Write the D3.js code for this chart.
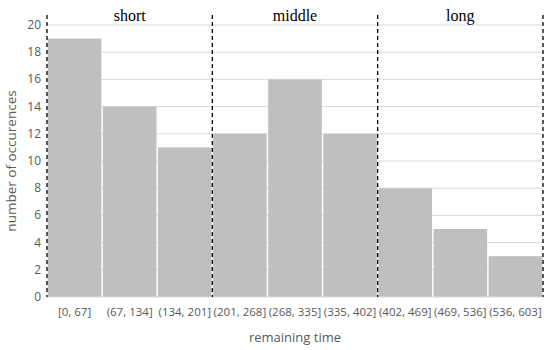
<!DOCTYPE html>
<html><head><meta charset="utf-8">
<script src="https://cdn.jsdelivr.net/npm/d3@7"></script>
<style>body{margin:0;background:#fff}svg{display:block}</style>
</head><body>
<svg id="c" width="550" height="350"></svg>
<script>
const categories = ["[0, 67]","(67, 134]","(134, 201]","(201, 268]","(268, 335]","(335, 402]","(402, 469]","(469, 536]","(536, 603]"];
const values = [19,14,11,12,16,12,8,5,3];
const yTicks = [0,2,4,6,8,10,12,14,16,18,20];
const groups = ["short","middle","long"];
const groupBounds = [0,3,6,9];

const svg = d3.select("#c");
const L=47, R=543, T=25, B=297;
const x = d3.scaleBand().domain(categories).range([L,R]).padding(0);
const y = d3.scaleLinear().domain([0,20]).range([B,T]);

svg.append("g").selectAll("line").data(yTicks.filter(d=>d>0)).join("line")
  .attr("x1",L).attr("x2",R).attr("y1",d=>y(d)).attr("y2",d=>y(d))
  .attr("stroke","#d9d9d9").attr("stroke-width",1);

svg.append("g").selectAll("rect").data(values).join("rect")
  .attr("x",(d,i)=>x(categories[i])+0.75).attr("width",x.bandwidth()-1.5)
  .attr("y",d=>y(d)).attr("height",d=>B-y(d)).attr("fill","#bfbfbf");

svg.append("line").attr("x1",L).attr("x2",R).attr("y1",B).attr("y2",B).attr("stroke","#d9d9d9");

const font = "'Open Sans', sans-serif";
svg.append("g").selectAll("text").data(yTicks).join("text")
  .attr("x",41).attr("y",d=>y(d)+4).attr("text-anchor","end")
  .attr("font-family",font).attr("font-size",12).attr("fill","#595959").text(d=>d);

svg.append("g").selectAll("text").data(categories).join("text")
  .attr("x",d=>x(d)+x.bandwidth()/2).attr("y",316).attr("text-anchor","middle")
  .attr("font-family",font).attr("font-size",11.5).attr("fill","#595959").text(d=>d);

const bx = i => i<categories.length ? x(categories[i]) : R;
svg.append("g").selectAll("line").data(groupBounds).join("line")
  .attr("x1",d=>bx(d)).attr("x2",d=>bx(d)).attr("y1",15).attr("y2",B)
  .attr("stroke","#000").attr("stroke-width",1.3).attr("stroke-dasharray","4,3");

svg.append("g").selectAll("text").data(groups).join("text")
  .attr("x",(d,i)=>(bx(groupBounds[i])+bx(groupBounds[i+1]))/2).attr("y",21)
  .attr("text-anchor","middle").attr("font-family","'Liberation Serif', serif")
  .attr("font-size",16).attr("fill","#000").text(d=>d);

svg.append("text").attr("x",295).attr("y",342).attr("text-anchor","middle")
  .attr("font-family",font).attr("font-size",13).attr("fill","#595959").text("remaining time");
svg.append("text").attr("transform","translate(16,161) rotate(-90)").attr("text-anchor","middle")
  .attr("font-family",font).attr("font-size",13.5).attr("fill","#595959").text("number of occurences");
</script>
</body></html>
